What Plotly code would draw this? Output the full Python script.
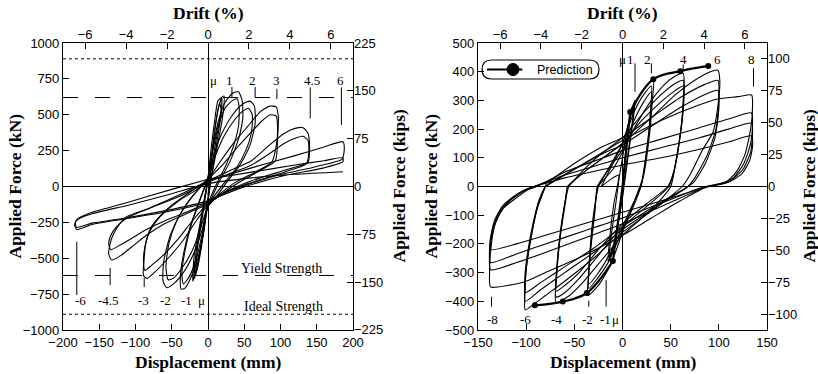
import plotly.graph_objects as go

# ---------------- data: left specimen (hysteresis loops, displacement mm / force kN) -------------
left_mu_a = [(0, -60), (4, 150), (9, 380), (14, 540), (19, 620), (18, 500), (12, 300), (5, 80), (0, -100),
             (-5, -280), (-10, -450), (-15, -580), (-19, -640), (-17, -480), (-11, -280), (-4, -60), (0, 40)]
left_mu_b = [(0, 40), (5, 220), (10, 420), (16, 580), (18, 540), (11, 320), (4, 100), (0, -80),
             (-6, -300), (-12, -490), (-17, -610), (-15, -450), (-8, -220), (-2, -20), (0, 60)]
left_mu_c = [(0, 60), (4, 250), (9, 450), (14, 600), (22, 630), (20, 480), (12, 260), (4, 40), (0, -90),
             (-7, -330), (-14, -530), (-21, -660), (-19, -480), (-10, -230), (-3, -30), (0, 60)]
left_1_a = [(0, 60), (6, 250), (14, 450), (24, 590), (34, 650), (42, 660), (47, 600), (48, 480), (42, 330),
            (30, 170), (16, 40), (5, -80), (0, -130), (-6, -320), (-14, -500), (-24, -640), (-32, -710),
            (-37, -715), (-38, -620), (-33, -450), (-24, -270), (-12, -100), (-3, 20), (0, 60)]
left_1_b = [(0, 60), (6, 230), (14, 420), (24, 550), (34, 600), (40, 610), (43, 550), (42, 420), (35, 280),
            (24, 140), (12, 20), (0, -120), (-8, -330), (-16, -500), (-26, -630), (-34, -680),
            (-36, -600), (-31, -430), (-22, -250), (-10, -80), (0, 50)]
left_2_a = [(0, 50), (8, 220), (20, 380), (34, 500), (48, 575), (58, 595), (64, 560), (65, 440), (58, 290),
            (44, 150), (26, 30), (10, -80), (0, -140), (-8, -300), (-20, -470), (-34, -600), (-48, -680),
            (-57, -705), (-62, -660), (-61, -520), (-52, -340), (-38, -190), (-20, -60), (-6, 20), (0, 60)]
left_2_b = [(0, 60), (10, 210), (22, 350), (36, 460), (48, 525), (56, 545), (61, 500), (60, 380), (52, 250),
            (38, 120), (20, 10), (0, -130), (-10, -290), (-22, -450), (-36, -570), (-48, -640),
            (-55, -650), (-58, -560), (-54, -400), (-44, -250), (-28, -110), (-10, 0), (0, 50)]
left_3_a = [(0, 50), (15, 160), (35, 300), (55, 420), (72, 520), (85, 560), (94, 555), (97, 480), (96, 340),
            (93, 180), (75, 120), (50, 50), (25, -30), (0, -130), (-15, -230), (-35, -380), (-55, -500),
            (-72, -590), (-84, -640), (-89, -620), (-88, -500), (-86, -400), (-80, -300), (-71, -233),
            (-50, -130), (-25, -40), (0, 50)]
left_3_b = [(0, 50), (20, 150), (40, 270), (60, 380), (75, 460), (86, 500), (94, 490), (96, 400), (94, 280),
            (88, 170), (65, 100), (35, 20), (0, -120), (-20, -230), (-42, -370), (-62, -480), (-78, -550),
            (-87, -585), (-89, -520), (-87, -420), (-80, -310), (-66, -210), (-40, -100), (-15, -20), (0, 40)]
left_45_a = [(0, 40), (30, 110), (60, 180), (85, 290), (105, 370), (120, 405), (131, 410), (138, 370),
             (140, 280), (138, 170), (110, 120), (60, 40), (20, -50), (0, -120), (-30, -190), (-60, -260),
             (-85, -340), (-105, -420), (-120, -480), (-133, -512), (-137, -470), (-135, -400),
             (-132, -350), (-122, -260), (-112, -210), (-80, -150), (-40, -70), (0, 30)]
left_45_b = [(0, 30), (30, 90), (60, 150), (85, 230), (105, 300), (122, 340), (131, 350), (138, 320),
             (139, 240), (136, 160), (105, 100), (55, 20), (15, -60), (0, -110), (-30, -180), (-60, -240),
             (-85, -300), (-105, -360), (-122, -410), (-134, -440), (-137, -400), (-134, -340),
             (-126, -280), (-112, -220), (-80, -150), (-40, -60), (0, 40)]
left_6_a = [(0, 40), (60, 130), (120, 215), (160, 275), (186, 312), (188, 270), (185, 190), (150, 140),
            (90, 70), (30, -30), (0, -110), (-60, -180), (-120, -230), (-160, -265), (-181, -300),
            (-184, -270), (-181, -230), (-170, -200), (-163, -185), (-110, -110), (-50, -20), (0, 50)]
left_6_b = [(0, 50), (60, 100), (120, 150), (160, 180), (186, 200), (186, 173), (160, 130), (100, 70),
            (40, -20), (0, -100), (-60, -170), (-120, -225), (-160, -255), (-181, -285), (-183, -250),
            (-178, -225), (-160, -190), (-110, -130), (-50, -50), (0, 20), (60, 60), (120, 85),
            (186, 103)]

# ---------------- data: right specimen -------------
right_mu_a = [(0, 0), (4, 150), (8, 240), (12, 290), (10, 220), (5, 100), (0, -20), (-5, -130), (-10, -210),
              (-14, -250), (-12, -180), (-7, -60), (-3, 40), (0, 100)]
right_mu_b = [(0, 100), (5, 200), (9, 260), (13, 300), (11, 230), (6, 110), (0, -40), (-6, -160),
              (-11, -230), (-15, -260), (-13, -170), (-9, -60), (-4, 40), (-10, 30), (-22, 0)]
right_2_a = [(-22, 0), (-10, 80), (0, 150), (10, 260), (20, 330), (32, 372), (31, 300), (28, 180), (22, 40),
             (18, 0), (8, -90), (0, -160), (-12, -270), (-24, -340), (-36, -380), (-35, -300), (-32, -150),
             (-27, -30), (-25, 0)]
right_2_b = [(-25, 0), (-10, 90), (0, 150), (12, 260), (22, 320), (30, 350), (29, 260), (25, 120), (20, 10),
             (10, -80), (0, -150), (-14, -260), (-26, -320), (-35, -355), (-34, -260), (-30, -120),
             (-26, 0)]
right_2_c = [(-26, 0), (-10, 80), (0, 130), (12, 230), (22, 295), (30, 330), (29, 240), (24, 100),
             (19, 0), (8, -80), (0, -140), (-14, -240), (-26, -305), (-35, -340), (-34, -240),
             (-29, -100), (-26, 0)]
right_4_a = [(-26, 0), (-10, 60), (0, 120), (15, 220), (30, 300), (45, 360), (55, 385), (63, 395),
             (64, 340), (62, 230), (56, 100), (50, 0), (30, -80), (10, -140), (0, -170), (-20, -250),
             (-40, -330), (-55, -380), (-69, -405), (-69, -330), (-66, -200), (-60, -60), (-56, 0)]
right_4_b = [(-56, 0), (-40, 60), (-20, 120), (0, 170), (20, 250), (40, 320), (55, 360), (63, 370),
             (63, 300), (60, 180), (54, 60), (48, 0), (25, -70), (0, -140), (-25, -240), (-45, -320),
             (-60, -370), (-69, -385), (-68, -300), (-65, -180), (-60, -60), (-57, 0)]
right_4_c = [(-57, 0), (-40, 50), (-20, 100), (0, 150), (20, 230), (40, 295), (55, 335), (63, 350),
             (63, 280), (59, 160), (53, 50), (47, 0), (25, -60), (0, -130), (-25, -220), (-45, -300),
             (-60, -345), (-69, -365), (-68, -280), (-64, -160), (-59, -50), (-57, 0)]
right_6_a = [(-57, 0), (-40, 50), (-20, 100), (0, 150), (30, 240), (55, 320), (75, 370), (90, 398),
             (99, 405), (101, 370), (99, 280), (94, 190), (83, 127), (70, 40), (62, 0), (40, -60),
             (20, -110), (0, -160), (-30, -250), (-60, -330), (-80, -380), (-92, -410), (-101, -430),
             (-101, -360), (-100, -290), (-95, -180), (-89, -82), (-79, 11)]
right_6_b = [(-79, 11), (-50, 80), (-20, 140), (0, 170), (30, 240), (60, 310), (85, 355), (99, 370),
             (100, 300), (97, 200), (88, 110), (75, 30), (68, 0), (40, -60), (0, -150), (-30, -230),
             (-60, -300), (-85, -360), (-101, -400), (-101, -330), (-99, -260), (-94, -160), (-88, -70),
             (-80, 0)]
right_6_c = [(-80, 0), (-50, 60), (-20, 115), (0, 145), (30, 210), (60, 275), (85, 320), (99, 335),
             (100, 270), (96, 170), (86, 80), (74, 15), (68, 0), (40, -55), (0, -140), (-30, -215),
             (-60, -280), (-85, -335), (-101, -370), (-101, -300), (-98, -220), (-93, -130), (-87, -50),
             (-80, 0)]
right_8_a = [(-80, 0), (-50, 60), (-20, 120), (0, 160), (40, 230), (80, 285), (99, 305), (120, 313),
             (134, 319), (135, 280), (133, 200), (127, 110), (118, 50), (108, 17), (88, 0), (60, -50),
             (30, -110), (0, -170), (-40, -240), (-80, -300), (-100, -330), (-120, -345), (-137, -350),
             (-138, -300), (-137, -230), (-133, -140), (-125, -80), (-113, -47), (-100, -15), (-89, 0)]
right_8_b = [(-89, 0), (-60, 50), (-20, 100), (0, 125), (40, 165), (80, 205), (110, 235), (134, 256),
             (135, 220), (133, 150), (126, 80), (115, 30), (100, 8), (88, 0), (50, -55), (0, -130),
             (-40, -180), (-80, -230), (-110, -265), (-137, -290), (-138, -240), (-136, -180),
             (-130, -110), (-120, -60), (-105, -20), (-92, 0)]
right_8_c = [(-92, 0), (-60, 40), (-20, 80), (0, 100), (40, 135), (80, 170), (110, 200), (134, 221),
             (135, 185), (133, 120), (125, 60), (112, 20), (95, 3), (85, 0), (50, -45), (0, -110),
             (-40, -155), (-80, -200), (-110, -235), (-137, -265), (-138, -215), (-135, -150),
             (-128, -90), (-116, -45), (-100, -10), (-92, 0)]
right_8_d = [(-92, 0), (-60, 30), (-20, 60), (0, 75), (40, 100), (80, 130), (110, 155), (134, 176),
             (135, 140), (132, 90), (124, 45), (110, 15), (90, 0), (50, -40), (0, -90), (-40, -130),
             (-80, -170), (-110, -200), (-137, -220), (-137, -180), (-133, -120), (-125, -70),
             (-113, -35), (-100, -10), (-90, 0)]

# prediction (right specimen)
pred_pos_disp = [0, 8, 32, 60, 89]
pred_pos_force = [0, 260, 374, 402, 420]
pred_neg_disp = [0, -10, -37, -62, -91]
pred_neg_force = [0, -260, -371, -401, -414]

# reference strengths (left specimen, kN)
yield_strength = 620
ideal_strength = 890

# ductility labels: (text, displacement, force)
left_mu_labels = [("μ", 7, 742), ("1", 30, 742), ("2", 62, 742), ("3", 95, 742), ("4.5", 143, 742), ("6", 183, 742),
                  ("-6", -176, -791), ("-4.5", -137, -791), ("-3", -89, -791), ("-2", -58, -791),
                  ("-1", -29, -791), ("μ", -9, -791)]
left_mu_marks = [(33, 693, 624), (65, 693, 617), (95, 680, 610), (141, 691, 475), (184, 691, 429),
                 (-181, -385, -756), (-135, -568, -687), (-88, -638, -700)]
right_mu_labels = [("μ", 0, 441), ("1", 8, 441), ("2", 26, 441), ("4", 63, 441), ("6", 99, 441), ("8", 134, 441),
                   ("-8", -135, -465), ("-6", -101, -465), ("-4", -69, -465), ("-2", -36, -465),
                   ("-1", -18, -465), ("μ", -7, -465)]
right_mu_marks = [(13, 429, 330), (30, 429, 394), (63, 425, 405), (136, 412, 348),
                  (-136, -384, -419), (-35, -398, -419), (-17, -326, -419)]

left_loops = [left_mu_a, left_mu_b, left_mu_c, left_1_a, left_1_b, left_2_a, left_2_b,
              left_3_a, left_3_b, left_45_a, left_45_b, left_6_a, left_6_b]
right_loops = [right_mu_a, right_mu_b, right_2_a, right_2_b, right_2_c, right_4_a, right_4_b,
               right_4_c, right_6_a, right_6_b, right_6_c, right_8_a, right_8_b, right_8_c, right_8_d]

KN_PER_KIP = 4.448

# ---------------- figure -------------
fig = go.Figure()


def add_loops(loops, xa, ya):
    for lp in loops:
        fig.add_trace(go.Scatter(x=[p[0] for p in lp], y=[p[1] for p in lp], mode="lines",
                                 line=dict(color="black", width=1.1, shape="spline", smoothing=0.6),
                                 xaxis=xa, yaxis=ya, showlegend=False, hoverinfo="skip"))


add_loops(left_loops, "x", "y")
add_loops(right_loops, "x2", "y2")

for dd, ff in [(pred_pos_disp, pred_pos_force), (pred_neg_disp, pred_neg_force)]:
    fig.add_trace(go.Scatter(x=dd[1:], y=ff[1:], mode="lines+markers",
                             line=dict(color="black", width=2.2, shape="spline"),
                             marker=dict(color="black", size=6),
                             xaxis="x2", yaxis="y2", showlegend=False))
    fig.add_trace(go.Scatter(x=dd[:2], y=ff[:2], mode="lines", line=dict(color="black", width=2),
                             xaxis="x2", yaxis="y2", showlegend=False))

# dummy traces to activate overlay axes
for xa, ya in [("x3", "y3"), ("x4", "y4")]:
    fig.add_trace(go.Scatter(x=[None], y=[None], xaxis=xa, yaxis=ya, showlegend=False))

XL = [63 / 818, 353 / 818]
XR = [478 / 818, 767 / 818]
YD = [1 - 330 / 374, 1 - 43 / 374]
tickfont = dict(family="Liberation Sans, Arial, sans-serif", size=13, color="black")
common = dict(showgrid=False, ticks="inside", ticklen=6, tickwidth=1, tickcolor="black",
              tickfont=tickfont, linecolor="black", linewidth=1.2, automargin=False)

drift_range = [-7.08, 7.08]
fig.update_layout(
    width=818, height=374, margin=dict(l=0, r=0, t=0, b=0, autoexpand=False),
    paper_bgcolor="white", plot_bgcolor="white",
    xaxis=dict(domain=XL, range=[-200, 200], tickvals=list(range(-200, 201, 50)), anchor="y",
               showline=True, mirror=True, zeroline=True, zerolinecolor="black", zerolinewidth=1, **common),
    yaxis=dict(domain=YD, range=[-1000, 1000], tickvals=list(range(-1000, 1001, 250)), anchor="x",
               showline=True, mirror=True, zeroline=True, zerolinecolor="black", zerolinewidth=1, **common),
    xaxis3=dict(overlaying="x", side="top", anchor="y", range=drift_range, tickvals=[-6, -4, -2, 0, 2, 4, 6],
                showline=False, zeroline=False, **common),
    yaxis3=dict(overlaying="y", side="right", anchor="x", range=[-225.2, 225.2],
                tickvals=[-225, -150, -75, 0, 75, 150, 225], showline=False, zeroline=False, **common),
    xaxis2=dict(domain=XR, range=[-150, 150], tickvals=list(range(-150, 151, 50)), anchor="y2",
                showline=True, mirror=True, zeroline=True, zerolinecolor="black", zerolinewidth=1, **common),
    yaxis2=dict(domain=YD, range=[-500, 500], tickvals=list(range(-500, 501, 100)), anchor="x2",
                showline=True, mirror=True, zeroline=True, zerolinecolor="black", zerolinewidth=1, **common),
    xaxis4=dict(overlaying="x2", side="top", anchor="y2", range=drift_range, tickvals=[-6, -4, -2, 0, 2, 4, 6],
                showline=False, zeroline=False, **common),
    yaxis4=dict(overlaying="y2", side="right", anchor="x2", range=[-500 / KN_PER_KIP, 500 / KN_PER_KIP],
                tickvals=[-100, -75, -50, -25, 0, 25, 50, 75, 100], showline=False, zeroline=False, **common),
)

serif = dict(family="Liberation Serif, Times New Roman, serif", size=17.5, color="black")
ann = []
for cx in [(XL[0] + XL[1]) / 2, (XR[0] + XR[1]) / 2]:
    ann.append(dict(text="<b>Drift (%)</b>", x=cx, y=1 - 13 / 374, xref="paper", yref="paper",
                    xanchor="center", yanchor="middle", showarrow=False, font=serif))
    ann.append(dict(text="<b>Displacement (mm)</b>", x=cx, y=1 - 362 / 374, xref="paper", yref="paper",
                    xanchor="center", yanchor="middle", showarrow=False, font=serif))
ymid = (YD[0] + YD[1]) / 2
for px_, t in [(14, "Applied Force (kN)"), (398, "Applied Force (kips)"),
               (430, "Applied Force (kN)"), (808, "Applied Force (kips)")]:
    ann.append(dict(text="<b>" + t + "</b>", x=px_ / 818, y=ymid, xref="paper", yref="paper", textangle=-90,
                    xanchor="center", yanchor="middle", showarrow=False, font=serif))

small_serif = dict(family="Liberation Serif, Times New Roman, serif", size=13, color="black")
for t, d, f in left_mu_labels:
    ann.append(dict(text=t, x=d, y=f, xref="x", yref="y", showarrow=False, font=small_serif))
for t, d, f in right_mu_labels:
    ann.append(dict(text=t, x=d, y=f, xref="x2", yref="y2", showarrow=False, font=small_serif))
ann.append(dict(text="Yield Strength", x=102, y=-570, xref="x", yref="y", showarrow=False,
                font=dict(family="Liberation Serif, Times New Roman, serif", size=14, color="black")))
ann.append(dict(text="Ideal Strength", x=104, y=-838, xref="x", yref="y", showarrow=False,
                font=dict(family="Liberation Serif, Times New Roman, serif", size=14, color="black")))
ann.append(dict(text="Prediction", x=-91, y=407, xref="x2", yref="y2", xanchor="left", showarrow=False,
                font=dict(family="Liberation Sans, Arial, sans-serif", size=12.5, color="black")))
fig.update_layout(annotations=ann)

shapes = []
for s in [1, -1]:
    shapes.append(dict(type="line", xref="x", yref="y", x0=-200, x1=200, y0=s * yield_strength,
                       y1=s * yield_strength, line=dict(color="black", width=1, dash="15px,17px")))
    shapes.append(dict(type="line", xref="x", yref="y", x0=-200, x1=200, y0=s * ideal_strength,
                       y1=s * ideal_strength, line=dict(color="black", width=1, dash="3px,3px")))
for d, f0, f1 in left_mu_marks:
    shapes.append(dict(type="line", xref="x", yref="y", x0=d, x1=d, y0=f0, y1=f1,
                       line=dict(color="black", width=1)))
for d, f0, f1 in right_mu_marks:
    shapes.append(dict(type="line", xref="x2", yref="y2", x0=d, x1=d, y0=f0, y1=f1,
                       line=dict(color="black", width=1)))
# legend box (rounded) for prediction
bx0, bx1, by0, by1 = -145.8, -24.4, 374.5, 440.7
rx, ym = 9.9, (by0 + by1) / 2
path = (f"M {bx0 + rx},{by1} L {bx1 - rx},{by1} Q {bx1},{by1} {bx1},{ym} Q {bx1},{by0} {bx1 - rx},{by0} "
        f"L {bx0 + rx},{by0} Q {bx0},{by0} {bx0},{ym} Q {bx0},{by1} {bx0 + rx},{by1} Z")
shapes.append(dict(type="path", xref="x2", yref="y2", path=path, line=dict(color="black", width=1.2)))
shapes.append(dict(type="line", xref="x2", yref="y2", x0=-140.7, x1=-104, y0=ym, y1=ym,
                   line=dict(color="black", width=2.2)))
shapes.append(dict(type="circle", xref="x2", yref="y2", x0=-119.9, x1=-107.5, y0=ym - 21, y1=ym + 21,
                   fillcolor="black", line=dict(color="black", width=1)))
fig.update_layout(shapes=shapes)

fig.write_html("out.html", config={"displayModeBar": False},
               post_script="document.body.style.margin='0px';document.body.style.overflow='hidden';")
